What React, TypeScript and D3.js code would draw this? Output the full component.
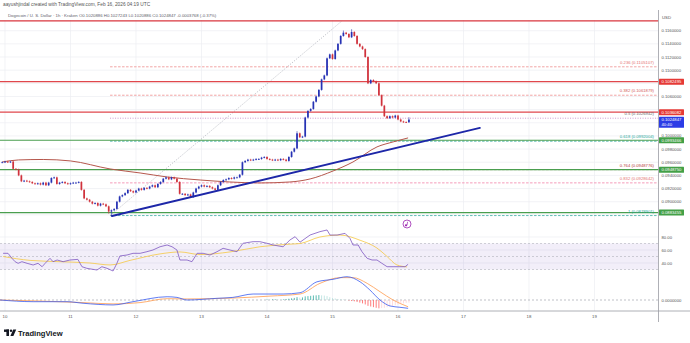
import React from "react";
import * as d3 from "d3";

const W = 690;
const H = 343;

// ---------------- data ----------------
const dayLabels = ["10", "11", "12", "13", "14", "15", "16", "17", "18", "19"];
const priceTicks = [0.088, 0.09, 0.092, 0.094, 0.096, 0.098, 0.1, 0.102, 0.104, 0.106, 0.108, 0.11, 0.112, 0.114, 0.116];
const rsiTicks = [80, 60, 40];
const rsiBands = [70, 50, 30];

// hourly candles, first one = Feb 9 23:00 (hour -1 relative to Feb 10 00:00)
const firstHour = -1;
const firstOpen = 0.096;
const closes = [
  0.0960, 0.0961, 0.0960, 0.0961, 0.0950, 0.0949, 0.0940, 0.0931, 0.0932, 0.0931,
  0.0930, 0.0928, 0.0927, 0.0928, 0.0926, 0.0929, 0.0925, 0.0929, 0.0936, 0.0937,
  0.0927, 0.0929, 0.0930, 0.0928, 0.0927, 0.0928, 0.0929, 0.0929, 0.0930, 0.0918,
  0.0905, 0.0903, 0.0900, 0.0897, 0.0898, 0.0894, 0.0897, 0.0896, 0.0893, 0.0885,
  0.0887, 0.0889, 0.0900, 0.0908, 0.0910, 0.0913, 0.0918, 0.0916, 0.0914, 0.0917,
  0.0920, 0.0918, 0.0921, 0.0920, 0.0923, 0.0925, 0.0922, 0.0927, 0.0930, 0.0935,
  0.0937, 0.0934, 0.0937, 0.0935, 0.0930, 0.0912, 0.0912, 0.0910, 0.0911, 0.0907,
  0.0914, 0.0920, 0.0923, 0.0925, 0.0923, 0.0924, 0.0922, 0.0920, 0.0918, 0.0925,
  0.0930, 0.0933, 0.0934, 0.0936, 0.0935, 0.0937, 0.0937, 0.0941, 0.0960, 0.0962,
  0.0964, 0.0963, 0.0964, 0.0965, 0.0965, 0.0967, 0.0968, 0.0965, 0.0964, 0.0963,
  0.0964, 0.0963, 0.0965, 0.0964, 0.0962, 0.0968, 0.0976, 0.0981, 0.1004, 0.0998,
  0.0999, 0.1028, 0.1038, 0.1041, 0.1052, 0.1060, 0.1070, 0.1086, 0.1092, 0.1118,
  0.1124, 0.1117, 0.1130, 0.1140, 0.1152, 0.1157, 0.1155, 0.1150, 0.1158, 0.1152,
  0.1140, 0.1136, 0.1132, 0.1120, 0.1080, 0.1085, 0.1083, 0.1080, 0.1062, 0.1046,
  0.1030, 0.1027, 0.1030, 0.1028, 0.1031, 0.1025, 0.1022, 0.1021, 0.1020886, 0.1024847,
];
const wickHighs: [number, number][] = [[127, 0.1161], [124, 0.1159], [107, 0.1006], [148, 0.1027243]];
const wickLows: [number, number][] = [[39, 0.08789], [38, 0.0883]];

// moving average (brown line)
const maHours = [-1, 5, 14, 24, 38.5, 49.5, 59.4, 71.5, 82.4, 93.4, 104.4, 111.8, 120.2, 127.5, 136.3, 142.2, 147.7];
const maValues = [0.09604, 0.09635, 0.09642, 0.0962, 0.09498, 0.09437, 0.09376, 0.0933, 0.093, 0.09285, 0.093, 0.09346, 0.09467, 0.09604, 0.09833, 0.09909, 0.0997];

// trendline + fib
const trendHours = [39.2, 174];
const trendPrices = [0.08782, 0.10122];
const fibHours = [38.5, 123.5];
const fibRatios = ["0", "0.236", "0.382", "0.5", "0.618", "0.764", "0.832", "1"];
const fibPrices = [0.1174983, 0.1105107, 0.1061879, 0.1026942, 0.0992004, 0.0948776, 0.0928642, 0.0878901];

const redLevels = [0.1082495, 0.1036082];
const greenLevels = [0.0993466, 0.094875, 0.0883455];
const lastPrice = 0.1024847;
const countdown = "40:40";

// RSI
const rsiHours = [-0.7, 1.1, 2.6, 3.7, 4.8, 6.2, 8.1, 10.3, 12.1, 13.6, 14.7, 16.5, 17.6, 19.1, 21.3, 23.8, 26.7, 28.2, 30, 33.7, 35.5, 37.4, 39.6, 41, 42.1, 44.7, 46.9, 49.5, 52, 54.2, 56.8, 59.4, 61.2, 63, 64.1, 66.7, 68.5, 70.4, 72.6, 75.1, 77.7, 79.9, 82.4, 85, 87.2, 90.9, 93.4, 96, 98.2, 101.9, 104.4, 106.3, 108.1, 111.8, 115.4, 118, 119.1, 121.7, 124.6, 126.4, 127.5, 129.4, 130.8, 132.7, 134.5, 136.3, 138.1, 140, 142.2, 144.7, 146.6, 147.7];
const rsiValues = [54.9, 54.9, 47, 42, 39.5, 42, 39.5, 36.9, 39.5, 34.3, 39.5, 47.2, 42, 44.6, 42, 44.6, 45.6, 34.3, 31.8, 29.2, 34.3, 31.8, 27.7, 39.5, 50.8, 52.3, 54.9, 54.9, 57.4, 60, 65, 67.7, 65, 60, 44.6, 44.6, 42, 54.9, 54.9, 52.3, 57.4, 62.6, 60, 57.4, 70.3, 72.8, 72.8, 70.3, 67.7, 65, 75.4, 80.5, 72, 83.1, 88.2, 90.8, 83, 83, 85.6, 77.9, 67.7, 67.7, 57.4, 47.2, 44.6, 44.6, 39.5, 34.3, 34.3, 34.3, 34.3, 38];
const rsiMaHours = [-0.7, 9.2, 20.2, 31.1, 38.5, 45.8, 56.8, 64.1, 71.5, 82.4, 93.4, 104.4, 108.1, 115.4, 122.8, 130.1, 136.3, 140, 143.6, 147.3];
const rsiMaValues = [50, 44, 42, 40, 37, 44, 54, 57, 53, 57, 65, 69, 70, 80, 83, 75, 63, 50, 37, 34];

// MACD
const macdHours = [-1.8, 10.3, 22.7, 28.6, 39.6, 46.9, 59.4, 63, 66.7, 77.7, 83.5, 90.9, 101.9, 108.1, 114.3, 120.2, 125.3, 130.1, 133.7, 137.4, 141.1, 144.7, 147.7];
const macdValues = [0, -0.00013, -0.00013, -0.00025, -0.00038, -0.00013, 0.00025, 0.0002, 0, 0.00013, 0.0002, 0.00046, 0.00046, 0.00056, 0.0014, 0.00159, 0.00179, 0.0014, 0.00077, 0, -0.00046, -0.00056, -0.00064];
const signalHours = [-1.8, 12.8, 28.6, 39.6, 49.5, 59.4, 66.7, 83.5, 97.1, 108.1, 115.4, 122.8, 127.5, 132.7, 137.4, 142.2, 147.7];
const signalValues = [0, -0.00008, -0.0002, -0.0003, -0.0002, 0.0001, 0.00008, 0.00015, 0.0003, 0.00046, 0.00128, 0.00172, 0.00172, 0.00128, 0.00064, 0, -0.00052];
const histStartHour = 96;
const histValues = [
  0.00005, 0.00004, 0.00005, 0.00006, 0.00004, 0.00003, 0.00005, 0.00008,
  0.0001, 0.00013, 0.00016, 0.00022, 0.00018, 0.0002,
  0.00028, 0.0003, 0.00032, 0.00035, 0.00036, 0.00038, 0.00036, 0.00034, 0.0003,
  0.00022, 0.00015, 0.00012, 0.00008, 0.00006, 0.00004, 0.00002,
  -0.00004, -0.00008, -0.0001, -0.00015, -0.0002, -0.00026,
  -0.00034, -0.00045, -0.0005, -0.00055, -0.0006, -0.00064, -0.00062, -0.0006, -0.00055, -0.0005, -0.00045, -0.0004,
  -0.00035, -0.0003, -0.00026, -0.00022, -0.0002,
];

// ---------------- styles ----------------
const fibLineColors = ["#e0474c", "#ef9a9a", "#ef9a9a", "#c990c9", "#4db6ac", "#8d7b4a", "#f48fb1", "#4db6ac"];
const fibLabelColors = ["#787b86", "#e57373", "#d35a5a", "#6a6a6a", "#26a69a", "#b23a3a", "#e57373", "#26a69a"];
const UP = "#2632b4";
const DOWN = "#d0323c";
const FONT = "'Liberation Sans', Arial, sans-serif";
const PR = 658.5; // right edge of plot

export default function App() {
  const x = d3.scaleLinear().domain([0, 24]).range([5, 70.5]);
  const y = d3.scaleLinear().domain([0.09, 0.116]).range([201.7, 30.7]);
  const yr = d3.scaleLinear().domain([40, 80]).range([263, 237]);
  const ym = d3.scaleLinear().domain([0, 0.0016]).range([300, 279.2]);

  const candles = closes.map((c, i) => {
    const t = firstHour + i;
    const o = i === 0 ? firstOpen : closes[i - 1];
    let hi = Math.max(o, c);
    let lo = Math.min(o, c);
    wickHighs.forEach(([h, v]) => { if (h === t) hi = Math.max(hi, v); });
    wickLows.forEach(([h, v]) => { if (h === t) lo = Math.min(lo, v); });
    return { t, o, c, hi, lo };
  });

  const maLine = d3.line<number>().x((_, i) => x(maHours[i])).y((v) => y(v)).curve(d3.curveMonotoneX)(maValues) || "";
  const rsiLine = d3.line<number>().x((_, i) => x(rsiHours[i])).y((v) => yr(v))(rsiValues) || "";
  const rsiMaLine = d3.line<number>().x((_, i) => x(rsiMaHours[i])).y((v) => yr(v)).curve(d3.curveMonotoneX)(rsiMaValues) || "";
  const macdLine = d3.line<number>().x((_, i) => x(macdHours[i])).y((v) => ym(v)).curve(d3.curveMonotoneX)(macdValues) || "";
  const sigLine = d3.line<number>().x((_, i) => x(signalHours[i])).y((v) => ym(v)).curve(d3.curveMonotoneX)(signalValues) || "";

  const boxes: { p: number; color: string; yc: number }[] = [
    ...redLevels.map((p) => ({ p, color: "#e53935", yc: y(p) })),
    ...greenLevels.map((p) => ({ p, color: "#43a047", yc: y(p) })),
  ];
  const lastY = y(lastPrice);
  const blueTop = lastY - 2.8;
  const blueH = 11;
  const tickVisible = (p: number) => {
    const yy = y(p);
    if (yy < 24 || yy > 222) return false;
    if (boxes.some((b) => Math.abs(b.yc - yy) < 4)) return false;
    if (yy > blueTop - 3 && yy < blueTop + blueH + 3) return false;
    return true;
  };

  const fibX0 = x(fibHours[0]);

  return (
    <svg width={W} height={H} style={{ display: "block", position: "absolute", left: 0, top: 0, background: "#fff" }} fontFamily={FONT}>
      <defs>
        <clipPath id="cm"><rect x={0} y={19} width={PR} height={207} /></clipPath>
        <clipPath id="cr"><rect x={0} y={226} width={PR} height={49} /></clipPath>
        <clipPath id="cd"><rect x={0} y={275} width={PR} height={36} /></clipPath>
      </defs>
      <rect x={0} y={0} width={W} height={H} fill="#fff" />

      {/* header */}
      <text x={3} y={6} fontSize={4.8} fill="#555">aayushjindal created with TradingView.com, Feb 16, 2026 04:19 UTC</text>
      <text x={8} y={17.3} fontSize={4.3} fill="#5d606b">
        Dogecoin / U. S. Dollar · 1h · Kraken  O0.1020886  H0.1027243  L0.1020886  C0.1024847  -0.0003768 (-0.37%)
      </text>

      {/* grid */}
      {dayLabels.map((d, i) => (
        <line key={"vg" + d} x1={x(i * 24)} x2={x(i * 24)} y1={20} y2={311} stroke="#eceef2" strokeWidth={0.7} />
      ))}
      {priceTicks.map((p) => (
        <line key={"hg" + p} x1={0} x2={PR} y1={y(p)} y2={y(p)} stroke="#eceef2" strokeWidth={0.7} />
      ))}
      {rsiTicks.map((v) => (
        <line key={"rg" + v} x1={0} x2={PR} y1={yr(v)} y2={yr(v)} stroke="#eceef2" strokeWidth={0.7} />
      ))}

      {/* main pane */}
      <g clipPath="url(#cm)">
        {/* fib dashed levels */}
        {fibPrices.map((p, i) =>
          i === 0 ? null : (
            <line key={"fl" + i} x1={fibX0} x2={PR} y1={y(p)} y2={y(p)} stroke={fibLineColors[i]} strokeWidth={0.9} strokeDasharray={i === 3 ? "1,1.5" : "2.5,1.5"} />
          )
        )}
        {/* fib diagonal */}
        <line x1={x(fibHours[0])} y1={y(fibPrices[7])} x2={x(fibHours[1])} y2={y(fibPrices[0])} stroke="#b0b3bb" strokeWidth={0.8} strokeDasharray="1.2,1.5" />
        {/* horizontal solid levels */}
        <line x1={0} x2={PR} y1={y(fibPrices[0])} y2={y(fibPrices[0])} stroke="#d9363e" strokeWidth={1.3} />
        {redLevels.map((p) => (
          <line key={"rl" + p} x1={0} x2={PR} y1={y(p)} y2={y(p)} stroke="#e0474c" strokeWidth={1.3} />
        ))}
        {greenLevels.map((p) => (
          <line key={"gl" + p} x1={0} x2={PR} y1={y(p)} y2={y(p)} stroke="#4a9e4f" strokeWidth={1.1} />
        ))}
        {/* fib labels */}
        {fibPrices.map((p, i) => (
          <text key={"ft" + i} x={654} y={y(p) - 3} fontSize={4.2} fill={fibLabelColors[i]} textAnchor="end">
            {fibRatios[i]} ({p.toFixed(7)})
          </text>
        ))}
        {/* moving average */}
        <path d={maLine} fill="none" stroke="#b5574c" strokeWidth={1} />
        {/* candles */}
        {candles.map((k) => {
          const col = k.c >= k.o ? UP : DOWN;
          const cx = x(k.t);
          const top = y(Math.max(k.o, k.c));
          const h = Math.max(0.9, Math.abs(y(k.o) - y(k.c)));
          return (
            <g key={"c" + k.t}>
              <line x1={cx} x2={cx} y1={y(k.hi) - 0.8} y2={y(k.lo) + 0.8} stroke={col} strokeWidth={0.6} />
              <rect x={cx - 0.85} y={top} width={1.7} height={h} fill={col} />
            </g>
          );
        })}
        {/* trendline */}
        <line x1={x(trendHours[0])} y1={y(trendPrices[0])} x2={x(trendHours[1])} y2={y(trendPrices[1])} stroke="#1d27a8" strokeWidth={1.9} strokeLinecap="round" />
      </g>

      {/* event icon */}
      <circle cx={407} cy={224} r={4} fill="#fff" stroke="#9c27b0" strokeWidth={0.8} />
      <circle cx={406} cy={225.3} r={1.1} fill="#9c27b0" />
      <line x1={407} y1={225.3} x2={407.6} y2={221.8} stroke="#9c27b0" strokeWidth={0.7} />

      {/* RSI pane */}
      <g clipPath="url(#cr)">
        <rect x={0} y={yr(70)} width={PR} height={yr(30) - yr(70)} fill="#7e57c2" opacity={0.1} />
        {rsiBands.map((v) => (
          <line key={"rb" + v} x1={0} x2={PR} y1={yr(v)} y2={yr(v)} stroke="#9598a1" strokeWidth={0.6} strokeDasharray="2,2" opacity={0.7} />
        ))}
        <path d={rsiMaLine} fill="none" stroke="#f5c842" strokeWidth={0.8} />
        <path d={rsiLine} fill="none" stroke="#7e57c2" strokeWidth={0.8} />
      </g>

      {/* MACD pane */}
      <g clipPath="url(#cd)">
        <line x1={0} x2={PR} y1={ym(0)} y2={ym(0)} stroke="#9598a1" strokeWidth={0.6} strokeDasharray="2,2" />
        {histValues.map((v, i) => {
          const prev = i === 0 ? 0 : histValues[i - 1];
          const col = v >= 0 ? (v >= prev ? "#26a69a" : "#b2dfdb") : (v <= prev ? "#ff5252" : "#ffcdd2");
          const cx = x(histStartHour + i);
          return <rect key={"h" + i} x={cx - 0.5} y={Math.min(ym(0), ym(v))} width={1} height={Math.abs(ym(v) - ym(0))} fill={col} opacity={0.75} />;
        })}
        <path d={sigLine} fill="none" stroke="#ff9a4d" strokeWidth={0.8} />
        <path d={macdLine} fill="none" stroke="#3a5cf0" strokeWidth={0.8} />
      </g>

      {/* axes */}
      <line x1={0} x2={W} y1={311} y2={311} stroke="#9a9ca3" strokeWidth={0.8} />
      <line x1={PR} x2={PR} y1={10} y2={322} stroke="#9a9ca3" strokeWidth={0.8} />
      {dayLabels.map((d, i) => (
        <text key={"dl" + d} x={x(i * 24)} y={317.5} fontSize={4.3} fill="#555" textAnchor="middle">{d}</text>
      ))}
      <text x={662} y={18.5} fontSize={4.3} fill="#555">USD</text>
      {priceTicks.filter(tickVisible).map((p) => (
        <text key={"pt" + p} x={661.5} y={y(p) + 1.5} fontSize={4.2} fill="#555">{p.toFixed(7)}</text>
      ))}
      {rsiTicks.map((v) => (
        <text key={"rt" + v} x={661.5} y={yr(v) + 1.5} fontSize={4.2} fill="#555">{v.toFixed(2)}</text>
      ))}
      <text x={661.5} y={ym(0) + 1.5} fontSize={4.2} fill="#555">{(0).toFixed(7)}</text>

      {/* price boxes */}
      {boxes.map((b) => (
        <g key={"bx" + b.p}>
          <rect x={659} y={b.yc - 3} width={25} height={6} fill={b.color} rx={0.5} />
          <text x={661.5} y={b.yc + 1.5} fontSize={4.2} fill="#fff">{b.p.toFixed(7)}</text>
        </g>
      ))}
      <rect x={659} y={blueTop} width={25} height={blueH} fill="#2b3be6" rx={0.5} />
      <text x={661.5} y={blueTop + 4.3} fontSize={4.2} fill="#fff">{lastPrice.toFixed(7)}</text>
      <text x={661.5} y={blueTop + 9.3} fontSize={4.2} fill="#fff">{countdown}</text>

      {/* logo */}
      <g fill="#131722">
        <rect x={4} y={329.5} width={5} height={2.4} />
        <rect x={6.4} y={329.5} width={2.6} height={6.5} />
        <circle cx={11} cy={330.7} r={1.2} />
        <path d="M13.2 329.5 L16.2 329.5 L13.4 336 L10.4 336 Z" />
      </g>
      <text x={18} y={336} fontSize={7.6} fontWeight="bold" fill="#131722">TradingView</text>
    </svg>
  );
}
